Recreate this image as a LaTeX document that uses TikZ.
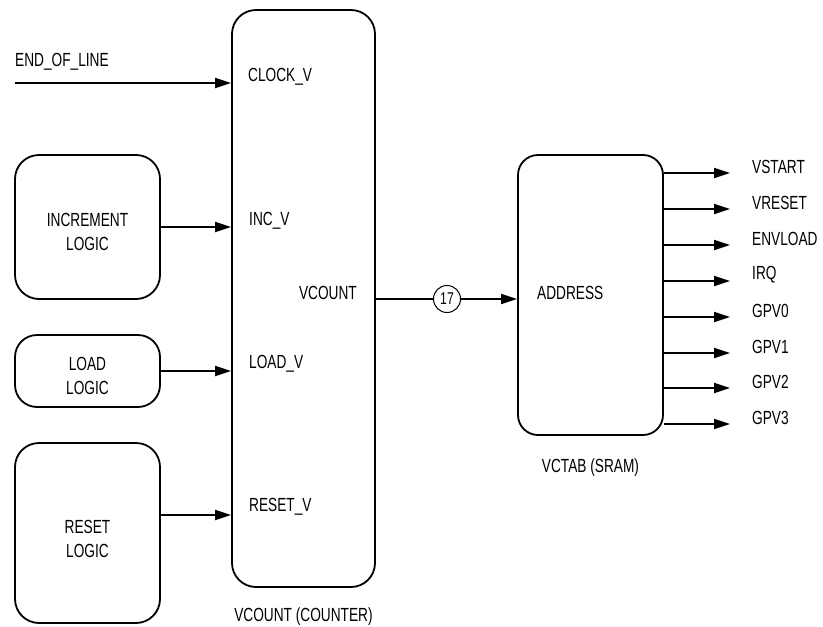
\documentclass[tikz,border=0pt]{standalone}
\usepackage{fontspec}
\setmainfont{Liberation Sans}[FakeStretch=0.72]
\usetikzlibrary{arrows.meta}
\begin{document}
\begin{tikzpicture}[x=1pt,y=-1pt,
  font=\fontsize{19}{24}\selectfont,
  blk/.style={draw,line width=1.8pt,rounded corners=24pt,inner sep=0pt},
  lbl/.style={inner sep=0pt,anchor=west},
  txt/.style={inner sep=0pt,align=center},
  sig/.style={line width=1.8pt,-{Triangle[length=16pt,width=10pt]}},
  wire/.style={line width=1.8pt}]
\useasboundingbox (0,0) rectangle (823,627);
% blocks
\node[blk,minimum width=143pt,minimum height=577pt] (vc) at (303.5,298.5) {};
\node[blk,minimum width=145pt,minimum height=144pt] (inc) at (87.5,227) {};
\node[blk,rounded corners=22pt,minimum width=145pt,minimum height=72pt] (ld) at (87.5,371) {};
\node[blk,minimum width=145pt,minimum height=180pt] (rs) at (87.5,533) {};
\node[blk,rounded corners=20pt,minimum width=145pt,minimum height=280pt] (tab) at (590.5,295) {};
% block texts
\node[txt] (inct) at (87.5,232) {INCREMENT\\LOGIC};
\node[txt] (ldt) at (87.5,375.5) {LOAD\\LOGIC};
\node[txt] (rst) at (87.5,538.5) {RESET\\LOGIC};
\node[lbl] (eolt) at (15,62) {END\_OF\_LINE};
\node[lbl] (clk) at (248,77) {CLOCK\_V};
\node[lbl] (incv) at (249,221) {INC\_V};
\node[lbl] (ldv) at (249,364) {LOAD\_V};
\node[lbl] (rsv) at (249,507) {RESET\_V};
\node[inner sep=0pt,anchor=east] (vcl) at (357,293) {VCOUNT};
\node[txt] (vccap) at (303.5,617) {VCOUNT (COUNTER)};
\node[lbl] (addr) at (537,293) {ADDRESS};
\node[txt] (tabcap) at (590.5,468) {VCTAB (SRAM)};
% inputs
\coordinate (eol) at (15,83);
\draw[sig] (eol) -- (vc.west |- eol);
\draw[sig] (inc.east) -- (vc.west |- inc.east);
\draw[sig] (ld.east) -- (vc.west |- ld.east);
\coordinate (rsy) at (0,515);
\draw[sig] (rs.east |- rsy) -- (vc.west |- rsy);
% bus
\node[draw,circle,line width=1pt,minimum size=27pt,inner sep=0pt,font=\fontsize{17}{19}\selectfont] (c17) at (447,299) {17};
\draw[wire] (vc.east |- c17) -- (c17);
\draw[sig] (c17) -- (tab.west |- c17);
% outputs
\foreach \y/\t [count=\i] in {173/VSTART,209/VRESET,245/ENVLOAD,281/IRQ,317/GPV0,353/GPV1,388/GPV2,424/GPV3}{
  \coordinate (o\i) at (730,\y);
  \draw[sig] (tab.east |- o\i) -- (o\i);
  \node[lbl] (ol\i) at (752,\y-6) {\t};
}
\end{tikzpicture}
\end{document}
